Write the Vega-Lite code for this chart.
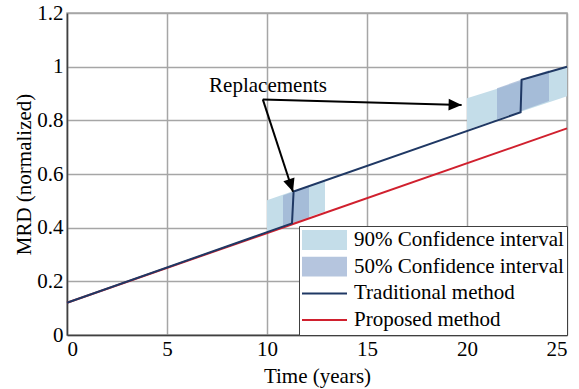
{
  "$schema": "https://vega.github.io/schema/vega-lite/v6.json",
  "width": 500,
  "height": 322,
  "autosize": "none",
  "padding": {"left": 67, "top": 13, "right": 12, "bottom": 54},
  "background": "white",
  "config": {
    "view": {"stroke": "#a6a6a6", "strokeWidth": 1.5},
    "font": "Liberation Serif",
    "axis": {
      "labelFont": "Liberation Serif",
      "labelFontSize": 21,
      "labelColor": "black",
      "titleFont": "Liberation Serif",
      "titleFontSize": 21,
      "titleFontWeight": "normal",
      "titleColor": "black",
      "grid": true,
      "gridColor": "#a6a6a6",
      "gridWidth": 1.5,
      "domainColor": "#404040",
      "domainWidth": 1.5,
      "ticks": false,
      "tickSize": 0
    },
    "legend": {"labelFont": "Liberation Serif"}
  },
  "datasets": {
    "lines": [
      {"series": "Traditional method", "t": 0, "v": 0.12, "i": 0},
      {"series": "Traditional method", "t": 11.25, "v": 0.416, "i": 1},
      {"series": "Traditional method", "t": 11.33, "v": 0.535, "i": 2},
      {"series": "Traditional method", "t": 22.68, "v": 0.83, "i": 3},
      {"series": "Traditional method", "t": 22.73, "v": 0.951, "i": 4},
      {"series": "Traditional method", "t": 25, "v": 1.0, "i": 5},
      {"series": "Proposed method", "t": 0, "v": 0.12, "i": 0},
      {"series": "Proposed method", "t": 25, "v": 0.77, "i": 1}
    ],
    "bands": [
      {"level": "90% Confidence interval", "g": "a", "t": 10, "lo": 0.385, "hi": 0.502},
      {"level": "90% Confidence interval", "g": "a", "t": 12.9, "lo": 0.46, "hi": 0.578},
      {"level": "90% Confidence interval", "g": "b", "t": 20, "lo": 0.765, "hi": 0.882},
      {"level": "90% Confidence interval", "g": "b", "t": 25, "lo": 0.89, "hi": 1.0},
      {"level": "50% Confidence interval", "g": "a", "t": 10.8, "lo": 0.4, "hi": 0.52},
      {"level": "50% Confidence interval", "g": "a", "t": 12.1, "lo": 0.435, "hi": 0.555},
      {"level": "50% Confidence interval", "g": "b", "t": 21.5, "lo": 0.804, "hi": 0.92},
      {"level": "50% Confidence interval", "g": "b", "t": 24.1, "lo": 0.872, "hi": 0.987}
    ],
    "arrows": [
      {"x1": 9.79, "y1": 0.878, "x2": 11.3, "y2": 0.534},
      {"x1": 9.79, "y1": 0.878, "x2": 19.73, "y2": 0.857}
    ]
  },
  "layer": [
    {
      "data": {"name": "bands"},
      "transform": [{"filter": "datum.level == '90% Confidence interval'"}],
      "mark": {"type": "area", "color": "#c4dde9", "opacity": 1},
      "encoding": {
        "x": {"field": "t", "type": "quantitative", "scale": {"domain": [0, 25], "nice": false}, "axis": {"values": [0, 5, 10, 15, 20, 25], "title": "Time (years)", "labelFont": "Liberation Serif", "labelFontSize": 21, "labelPadding": 3, "titlePadding": 6}},
        "y": {"field": "lo", "type": "quantitative", "scale": {"domain": [0, 1.2], "nice": false}, "axis": {"values": [0, 0.2, 0.4, 0.6, 0.8, 1, 1.2], "format": "~g", "title": "MRD (normalized)", "labelFont": "Liberation Serif", "labelFontSize": 21, "labelPadding": 4, "titlePadding": 2}},
        "y2": {"field": "hi"},
        "detail": {"field": "g"}
      }
    },
    {
      "data": {"name": "bands"},
      "transform": [{"filter": "datum.level == '50% Confidence interval'"}],
      "mark": {"type": "area", "color": "#98aed0", "opacity": 0.7},
      "encoding": {
        "x": {"field": "t", "type": "quantitative"},
        "y": {"field": "lo", "type": "quantitative"},
        "y2": {"field": "hi"},
        "detail": {"field": "g"}
      }
    },
    {
      "data": {"name": "lines"},
      "transform": [{"filter": "datum.series == 'Proposed method'"}],
      "mark": {"type": "line", "strokeWidth": 2, "color": "#d0202e"},
      "encoding": {
        "x": {"field": "t", "type": "quantitative"},
        "y": {"field": "v", "type": "quantitative"},
        "order": {"field": "i", "type": "quantitative"}
      }
    },
    {
      "data": {"name": "lines"},
      "transform": [{"filter": "datum.series == 'Traditional method'"}],
      "mark": {"type": "line", "strokeWidth": 2, "color": "#1f3864"},
      "encoding": {
        "x": {"field": "t", "type": "quantitative"},
        "y": {"field": "v", "type": "quantitative"},
        "order": {"field": "i", "type": "quantitative"}
      }
    },
    {
      "data": {"name": "arrows"},
      "mark": {"type": "rule", "color": "black", "strokeWidth": 2},
      "encoding": {
        "x": {"field": "x1", "type": "quantitative"},
        "y": {"field": "y1", "type": "quantitative"},
        "x2": {"field": "x2"},
        "y2": {"field": "y2"}
      }
    },
    {
      "data": {"values": [{"x": 11.3, "y": 0.534}]},
      "mark": {"type": "point", "shape": "M0,0L-0.45,1L0.45,1Z", "filled": true, "color": "black", "opacity": 1, "size": 676, "angle": 161.7},
      "encoding": {
        "x": {"field": "x", "type": "quantitative"},
        "y": {"field": "y", "type": "quantitative"}
      }
    },
    {
      "data": {"values": [{"x": 19.73, "y": 0.857}]},
      "mark": {"type": "point", "shape": "M0,0L-0.45,1L0.45,1Z", "filled": true, "color": "black", "opacity": 1, "size": 676, "angle": 91.6},
      "encoding": {
        "x": {"field": "x", "type": "quantitative"},
        "y": {"field": "y", "type": "quantitative"}
      }
    },
    {
      "data": {"values": [{"x": 10.05, "y": 0.928, "label": "Replacements"}]},
      "mark": {"type": "text", "font": "Liberation Serif", "fontSize": 21, "color": "black"},
      "encoding": {
        "x": {"field": "x", "type": "quantitative"},
        "y": {"field": "y", "type": "quantitative"},
        "text": {"field": "label"}
      }
    },
    {
      "data": {"values": [
        {"entry": "90% Confidence interval"},
        {"entry": "50% Confidence interval"},
        {"entry": "Traditional method"},
        {"entry": "Proposed method"}
      ]},
      "mark": {"type": "point", "filled": true, "opacity": 1},
      "encoding": {
        "size": {"value": 0},
        "color": {
          "field": "entry",
          "type": "nominal",
          "scale": {
            "domain": ["90% Confidence interval", "50% Confidence interval", "Traditional method", "Proposed method"],
            "range": ["#c4dde9", "#b5c5de", "#1f3864", "#d0202e"]
          },
          "legend": {
            "title": null,
            "orient": "bottom-right",
            "offset": 0,
            "padding": 3,
            "fillColor": "white",
            "strokeColor": "#404040",
            "cornerRadius": 0,
            "labelFont": "Liberation Serif",
            "labelFontSize": 21,
            "labelColor": "black",
            "labelLimit": 400,
            "labelOffset": 7,
            "symbolSize": 2025,
            "symbolOpacity": 1,
            "symbolStrokeWidth": 0,
            "clipHeight": 22,
            "rowPadding": 4.7
          }
        },
        "shape": {
          "field": "entry",
          "type": "nominal",
          "scale": {
            "domain": ["90% Confidence interval", "50% Confidence interval", "Traditional method", "Proposed method"],
            "range": ["M-1,-0.44H1V0.44H-1Z", "M-1,-0.44H1V0.44H-1Z", "M-1,-0.045H1V0.045H-1Z", "M-1,-0.045H1V0.045H-1Z"]
          },
          "legend": {
            "title": null,
            "orient": "bottom-right",
            "offset": 0,
            "padding": 3,
            "fillColor": "white",
            "strokeColor": "#404040",
            "cornerRadius": 0,
            "labelFont": "Liberation Serif",
            "labelFontSize": 21,
            "labelColor": "black",
            "labelLimit": 400,
            "labelOffset": 7,
            "symbolSize": 2025,
            "symbolOpacity": 1,
            "symbolStrokeWidth": 0,
            "clipHeight": 22,
            "rowPadding": 4.7
          }
        }
      }
    }
  ]
}
